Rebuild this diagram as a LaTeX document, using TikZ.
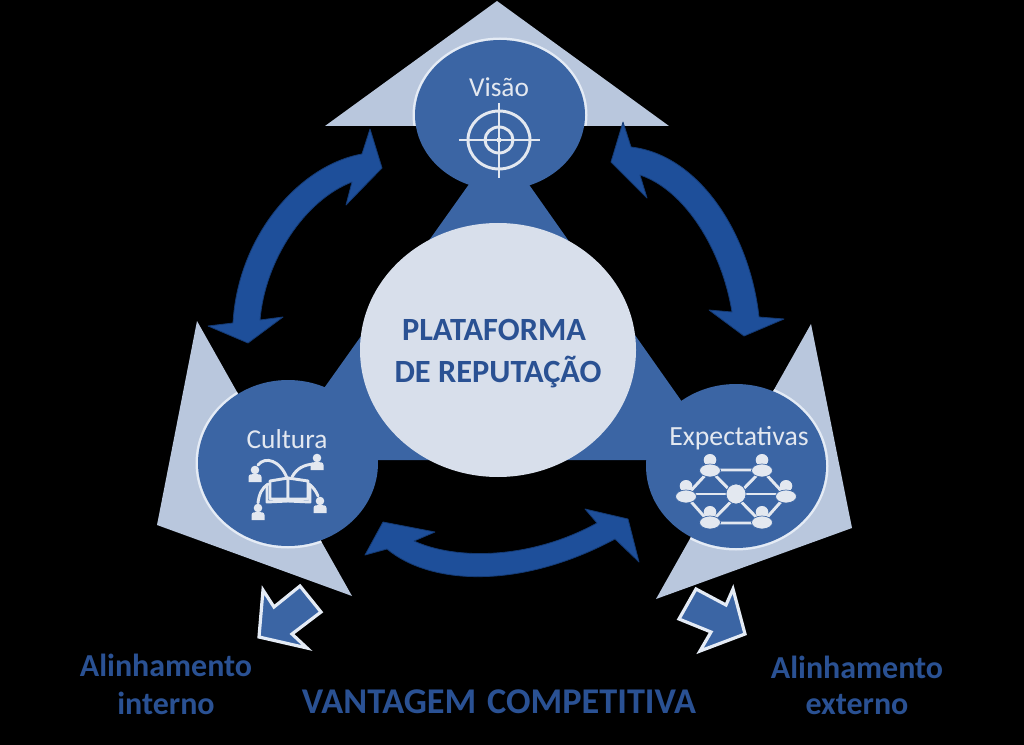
\documentclass[tikz,border=0pt]{standalone}
\usepackage{fontspec}
\setmainfont{Carlito}
\definecolor{lightTri}{HTML}{B9C7DD}
\definecolor{midBlue}{HTML}{3B65A4}
\definecolor{arrowBlue}{HTML}{1E4F9A}
\definecolor{arrowEdge}{HTML}{143A74}
\definecolor{centerFill}{HTML}{D8DFEB}
\definecolor{rimCol}{HTML}{E4EBF5}
\definecolor{iconCol}{HTML}{E3E8F0}
\definecolor{labelBlue}{HTML}{2A5193}
\tikzset{
  curvedarrow/.style={fill=arrowBlue,draw=arrowEdge,line width=0.6pt,line join=round},
  iconline/.style={draw=iconCol,line width=2.2pt},
  iconfill/.style={fill=iconCol},
  blockarrow/.style={fill=midBlue,draw=rimCol,line width=2.4pt,miter limit=10},
  innerlabel/.style={text=iconCol,inner sep=0pt},
  titlelabel/.style={text=labelBlue,font=\bfseries\fontsize{24.3pt}{28pt}\selectfont,inner sep=0pt},
  sidelabel/.style={text=labelBlue,font=\bfseries\fontsize{24pt}{28pt}\selectfont,inner sep=0pt},
}
\newcommand{\netperson}[2]{%
  \fill[iconfill] (#1,#2-6) ellipse (6.3 and 6);
  \fill[iconfill,draw=midBlue,line width=0.5pt] (#1,#2+4.5) ellipse (10.5 and 6.5);
}
\newcommand{\culperson}[2]{%
  \fill[iconfill] (#1,#2-4) circle (4.3);
  \fill[iconfill] (#1-6.5,#2+8) -- (#1-6.5,#2+3) .. controls (#1-6.5,#2) and (#1-3,#2) .. (#1,#2)
     .. controls (#1+3,#2) and (#1+6.5,#2) .. (#1+6.5,#2+3) -- (#1+6.5,#2+8) -- cycle;
}
\begin{document}
\begin{tikzpicture}[x=0.75pt,y=-0.75pt]
\useasboundingbox (0,0) rectangle (1024,745);
\fill[black] (0,0) rectangle (1024,745);
% big light triangles
\fill[lightTri] (497,1) -- (669,126) -- (325,126) -- cycle;
\fill[lightTri] (197,321) -- (352,596) -- (157,525) -- cycle;
\fill[lightTri] (811,324) -- (852,528) -- (656,599) -- cycle;
% rims, visible only over the light triangles
\begin{scope}
  \clip (497,1) -- (669,126) -- (325,126) -- cycle;
  \fill[rimCol] (500,115) ellipse (87.5 and 77.5);
\end{scope}
\begin{scope}
  \clip (197,321) -- (352,596) -- (157,525) -- cycle;
  \fill[rimCol] (288,463) ellipse (92.5 and 85.5);
\end{scope}
\begin{scope}
  \clip (811,324) -- (852,528) -- (656,599) -- cycle;
  \fill[rimCol] (736,466) ellipse (92.5 and 84.5);
\end{scope}
% central blue triangle and discs
\fill[midBlue] (499,142) -- (723,460) -- (273,460) -- cycle;
\fill[midBlue] (500,115) ellipse (85 and 75);
\fill[midBlue] (288,463) ellipse (90 and 83);
\fill[midBlue] (736,466) ellipse (90 and 82);
\fill[centerFill] (498,350) ellipse (138 and 127);
% curved double arrows
\path[curvedarrow] (362,154) .. controls (300,165) and (238,235) .. (233,323)
  -- (208,326) -- (248,343) -- (283,317) -- (260,320)
  .. controls (265,260) and (305,200) .. (352,182)
  -- (346,205) -- (382,168) -- (370,129) -- cycle;
\path[curvedarrow] (631,147) .. controls (700,155) and (750,235) .. (759,317)
  -- (784,319) -- (744,336) -- (709,310) -- (732,312)
  .. controls (722,250) and (685,190) .. (640,175)
  -- (647,198) -- (611,162) -- (623,122) -- cycle;
\path[curvedarrow] (387,549) .. controls (430,585) and (520,590) .. (615,539)
  -- (639,562) -- (628,519) -- (585,509) -- (597,523)
  .. controls (530,560) and (455,560) .. (414,541)
  -- (435,532) -- (383,522) -- (365,555) -- cycle;
% Vision icon
\draw[iconline] (499,140) ellipse (31 and 29);
\draw[iconline] (499,140) ellipse (14 and 13);
\draw[iconline] (459,140) -- (540,140);
\draw[iconline] (499,103) -- (499,178);
\fill[iconfill] (499,140) circle (2.5);
% Culture icon
\draw[iconline,line cap=round] (287,478) .. controls (280,460) and (265,456) .. (258,465);
\draw[iconline,line cap=round] (292,477) .. controls (297,468) and (304,465) .. (313,464);
\draw[iconline,line cap=round] (258,503) .. controls (259,494) and (262,488) .. (268,484);
\draw[iconline,line cap=round] (309,484) .. controls (313,487) and (316,491) .. (318,496);
\culperson{255}{474}
\culperson{317}{462}
\culperson{258}{512}
\culperson{320}{505}
\draw[iconline,fill=midBlue,line join=round] (270,481) -- (288,478) -- (288,499) -- (270,499) -- cycle;
\draw[iconline,fill=midBlue,line join=round] (288,478) -- (308,481) -- (308,499) -- (288,499) -- cycle;
\draw[iconline,line join=round] (267,484) -- (267,502) -- (288,501) -- (310,502) -- (310,484);
% Expectations icon
\draw[iconline] (710,470) -- (762,470) -- (786,496) -- (762,523) -- (710,523) -- (686,496) -- cycle;
\draw[iconline] (686,494) -- (786,494);
\draw[iconline] (710,470) -- (762,523);
\draw[iconline] (762,470) -- (710,523);
\netperson{710}{466}
\netperson{762}{466}
\netperson{686}{492}
\netperson{786}{492}
\netperson{710}{518}
\netperson{762}{518}
\fill[iconfill,draw=midBlue,line width=0.5pt] (736,494) circle (10);
% small block arrows
\path[blockarrow] (263,590) -- (274,607) -- (300,586) -- (321,612) -- (292,634) -- (307,648) -- (259,637) -- cycle;
\path[blockarrow] (696,589) -- (726,605) -- (733,589) -- (745,634) -- (700,651) -- (711,632) -- (679,619) -- cycle;
% labels
\node[innerlabel,font=\fontsize{20.5pt}{24pt}\selectfont] (visao) at (499,87) {Visão};
\node[innerlabel,font=\fontsize{20.5pt}{24pt}\selectfont] (cultura) at (287,439) {Cultura};
\node[innerlabel,font=\fontsize{20.8pt}{24pt}\selectfont] (expect) at (739,438) {Expectativas};
\node[titlelabel] (plat1) at (494,330) {PLATAFORMA};
\node[titlelabel] (plat2) at (498,372) {DE REPUTAÇÃO};
\node[sidelabel] (ali1) at (166,665) {Alinhamento};
\node[sidelabel] (int1) at (166,703) {interno};
\node[sidelabel] (ali2) at (857,667) {Alinhamento};
\node[sidelabel] (ext2) at (857,705) {externo};
\node[titlelabel,font=\bfseries\fontsize{27.2pt}{30pt}\selectfont] (vant) at (499,702) {VANTAGEM\hspace{2pt} COMPETITIVA};
\end{tikzpicture}
\end{document}
